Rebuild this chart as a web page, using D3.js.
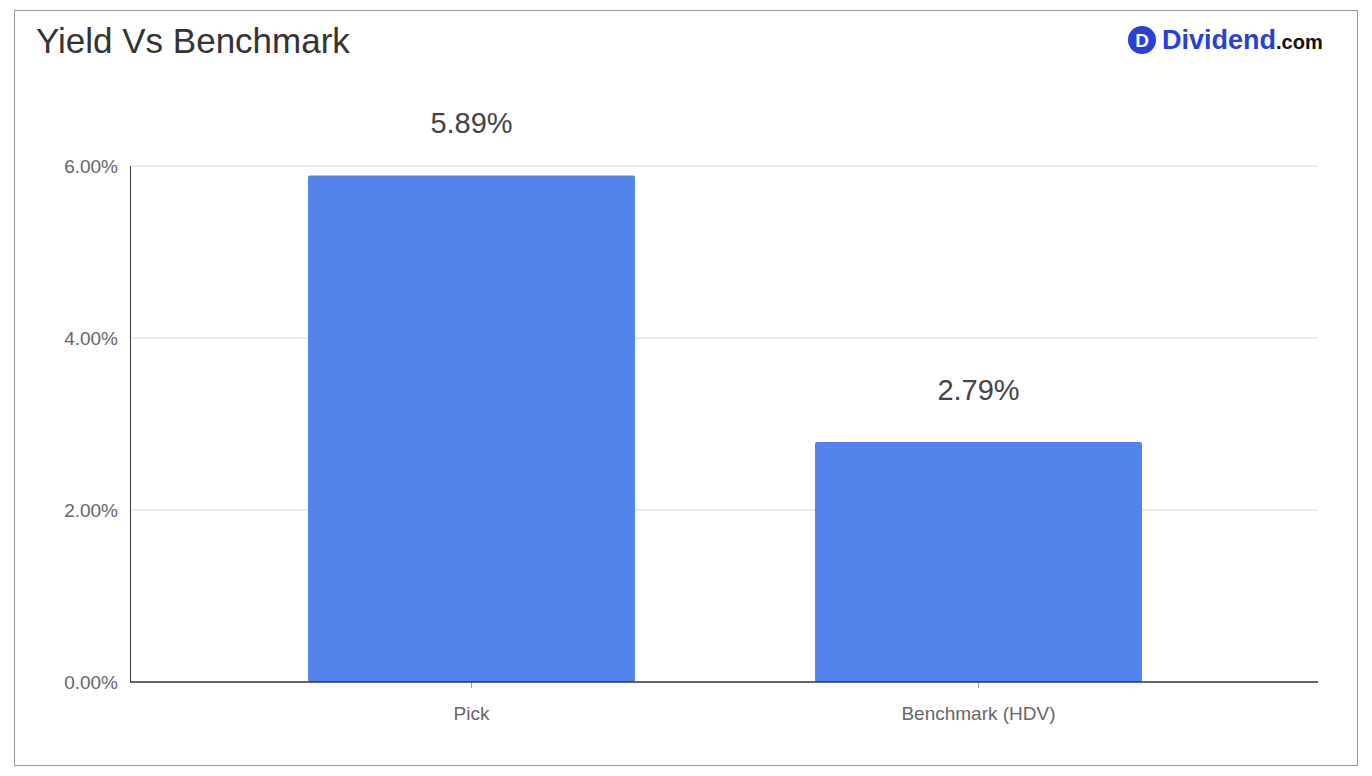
<!DOCTYPE html><html><head><meta charset="utf-8"><script src="https://cdn.jsdelivr.net/npm/d3@7"></script>
<style>body{margin:0;background:#fff}text{font-family:Arial,"Liberation Sans",sans-serif}</style></head><body><svg id="c" width="1372" height="776"></svg><script>
const categories=["Pick","Benchmark (HDV)"];
const values=[5.89,2.79];
const yTicks=[0,2,4,6];
const svg=d3.select("#c");
svg.append("rect").attr("x",14.5).attr("y",10.5).attr("width",1343).attr("height",755).attr("fill","#fff").attr("stroke","#999");
const y=d3.scaleLinear().domain([0,6]).range([682,166]);
const x=d3.scaleBand().domain(categories).range([308,1142]).paddingInner(180/507).paddingOuter(0);
svg.append("g").selectAll("line").data(yTicks.filter(d=>d>0)).join("line").attr("x1",130).attr("x2",1318).attr("y1",d=>y(d)).attr("y2",d=>y(d)).attr("stroke","#d9d9d9");
svg.append("g").selectAll("text").data(yTicks).join("text").attr("x",118).attr("y",d=>y(d)+7).attr("text-anchor","end").attr("font-size",19).attr("fill","#666").text(d=>d.toFixed(2)+"%");
svg.append("g").selectAll("rect").data(values).join("rect").attr("x",(d,i)=>x(categories[i])).attr("width",x.bandwidth()).attr("y",d=>y(d)).attr("height",d=>682-y(d)).attr("rx",2).attr("fill","#5384ec");
svg.append("g").selectAll("text").data(values).join("text").attr("x",(d,i)=>x(categories[i])+x.bandwidth()/2).attr("y",d=>y(d)-42).attr("text-anchor","middle").attr("font-size",29).attr("fill","#444").text(d=>d.toFixed(2)+"%");
svg.append("line").attr("x1",130.5).attr("x2",130.5).attr("y1",166).attr("y2",682).attr("stroke","#333");
const ax=svg.append("g").attr("transform","translate(0,682)").call(d3.axisBottom(x).tickSize(6).tickSizeOuter(0));
ax.select(".domain").remove();
ax.append("line").attr("x1",130).attr("x2",1318).attr("stroke","#333").attr("stroke-width",1.5);
ax.selectAll(".tick line").attr("stroke","#999");
ax.selectAll(".tick text").attr("font-size",19).attr("fill","#666").attr("dy","1.5em").attr("font-family","Arial,'Liberation Sans',sans-serif");
svg.append("text").attr("x",36).attr("y",53).attr("font-size",35).attr("fill","#333").text("Yield Vs Benchmark");
svg.append("circle").attr("cx",1142).attr("cy",40).attr("r",14).attr("fill","#2b3fd6");
svg.append("text").attr("x",1142).attr("y",47).attr("text-anchor","middle").attr("font-size",19).attr("font-weight","bold").attr("fill","#fff").text("D");
const lt=svg.append("text").attr("x",1162).attr("y",49).attr("font-weight","bold").attr("font-family","Lato,'Open Sans',sans-serif");
lt.append("tspan").attr("font-size",27).attr("fill","#2b3fd6").text("Dividend");
lt.append("tspan").attr("font-size",20).attr("fill","#111").text(".com");
</script></body></html>
